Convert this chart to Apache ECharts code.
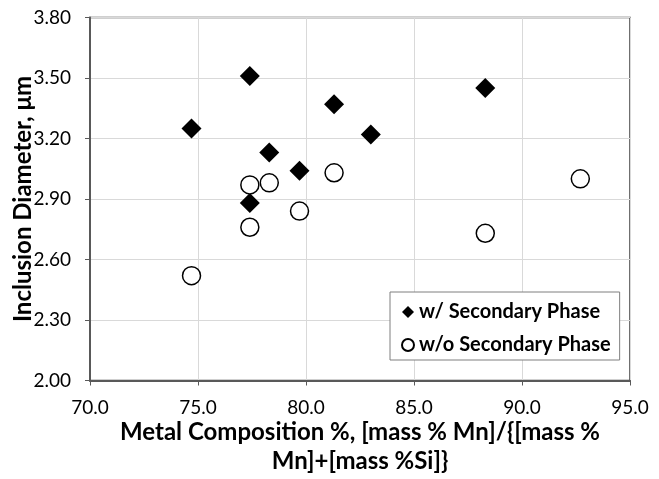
<!DOCTYPE html>
<html>
<head>
<meta charset="utf-8">
<script src="https://cdn.jsdelivr.net/npm/echarts@6/dist/echarts.min.js"></script>
<style>html,body{margin:0;padding:0;background:#fff}#c{width:659px;height:479px}</style>
</head>
<body>
<div id="c"></div>
<script>
// Data
const seriesNames = ['w/ Secondary Phase', 'w/o Secondary Phase'];
const withX = [74.7, 77.4, 78.3, 79.7, 77.4, 81.3, 83.0, 88.3];
const withY = [3.25, 3.51, 3.13, 3.04, 2.88, 3.37, 3.22, 3.45];
const withoutX = [74.7, 77.4, 77.4, 78.3, 79.7, 81.3, 88.3, 92.7];
const withoutY = [2.52, 2.97, 2.76, 2.98, 2.84, 3.03, 2.73, 3.00];
const xTitle = 'Metal Composition %, [mass % Mn]/{[mass %\nMn]+[mass %Si]}';
const yTitle = 'Inclusion Diameter, μm';

const FONT = 'Lato';
const chart = echarts.init(document.getElementById('c'), null, {renderer: 'canvas'});
chart.setOption({
  animation: false,
  backgroundColor: '#fff',
  grid: {left: 90, right: 29, top: 17.5, bottom: 98.5, outerBoundsMode: 'none', containLabel: false,
         show: true, borderColor: '#404040', borderWidth: 1.5, backgroundColor: 'transparent'},
  xAxis: {
    type: 'value', min: 70, max: 95, interval: 5,
    name: xTitle, nameLocation: 'middle', nameGap: 37, nameMoveOverlap: false,
    nameTextStyle: {fontFamily: FONT, fontWeight: 'bold', fontSize: 24, color: '#000', lineHeight: 29},
    axisLine: {show: true, onZero: false, lineStyle: {color: '#595959', width: 2}},
    axisTick: {show: true, length: 5, lineStyle: {color: '#595959', width: 1}},
    axisLabel: {fontFamily: FONT, fontSize: 19, color: '#000', margin: 18, formatter: v => v.toFixed(1)},
    splitLine: {show: true, lineStyle: {color: '#d9d9d9', width: 1}}
  },
  yAxis: {
    type: 'value', min: 2.0, max: 3.8, interval: 0.3,
    name: yTitle, nameLocation: 'middle', nameGap: 55, nameRotate: 90, nameMoveOverlap: false,
    nameTextStyle: {fontFamily: FONT, fontWeight: 'bold', fontSize: 24, color: '#000'},
    axisLine: {show: true, onZero: false, lineStyle: {color: '#595959', width: 2}},
    axisTick: {show: true, length: 5, lineStyle: {color: '#595959', width: 1}},
    axisLabel: {fontFamily: FONT, fontSize: 19, color: '#000', margin: 19, formatter: v => v.toFixed(2)},
    splitLine: {show: true, lineStyle: {color: '#d9d9d9', width: 1}}
  },
  legend: {
    orient: 'vertical', left: 390, top: 292,
    padding: [10, 9, 5, 11], itemGap: 13,
    itemWidth: 12, itemHeight: 12,
    backgroundColor: '#fff', borderColor: '#7f7f7f', borderWidth: 1,
    textStyle: {fontFamily: FONT, fontWeight: 'bold', fontSize: 20, color: '#000'},
    data: [
      {name: seriesNames[0], icon: 'diamond'},
      {name: seriesNames[1], icon: 'circle'}
    ]
  },
  series: [
    {
      name: seriesNames[0], type: 'scatter', symbol: 'diamond', symbolSize: 20,
      itemStyle: {color: '#000', opacity: 1},
      data: withX.map((x, i) => [x, withY[i]])
    },
    {
      name: seriesNames[1], type: 'scatter', symbol: 'circle', symbolSize: 18,
      itemStyle: {color: '#fff', borderColor: '#000', borderWidth: 1.5, opacity: 1},
      data: withoutX.map((x, i) => [x, withoutY[i]])
    }
  ]
});
</script>
</body>
</html>
